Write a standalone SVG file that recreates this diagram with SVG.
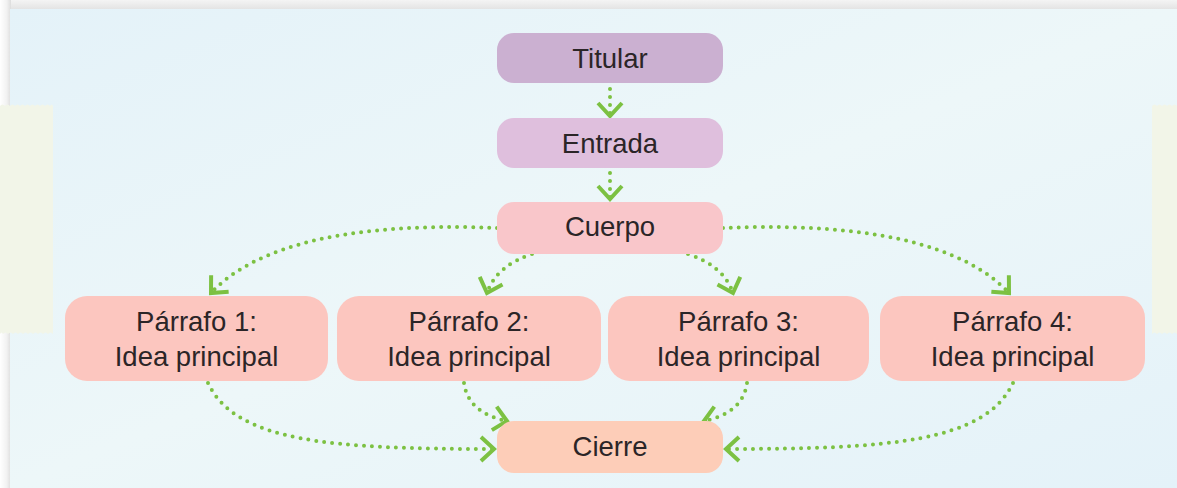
<svg xmlns="http://www.w3.org/2000/svg" width="1177" height="488" viewBox="0 0 1177 488">
<defs>
<linearGradient id="bg" x1="0" y1="0" x2="1" y2="1">
<stop offset="0" stop-color="#e4f2f9"/>
<stop offset="0.5" stop-color="#edf7f9"/>
<stop offset="1" stop-color="#e4f2f9"/>
</linearGradient>
<linearGradient id="topband" x1="0" y1="0" x2="0" y2="1">
<stop offset="0" stop-color="#f4f4f4"/>
<stop offset="1" stop-color="#e2e2e2"/>
</linearGradient>
<linearGradient id="leftband" x1="0" y1="0" x2="1" y2="0">
<stop offset="0" stop-color="#ffffff"/>
<stop offset="0.6" stop-color="#f2f2f2"/>
<stop offset="1" stop-color="#dddddd"/>
</linearGradient>
<marker id="chev" markerUnits="userSpaceOnUse" markerWidth="40" markerHeight="40" viewBox="-20 -20 40 40" refX="0" refY="0" orient="auto" overflow="visible">
<path d="M -13 -12 L 0 0 L -13 12" fill="none" stroke="#7cc142" stroke-width="4" stroke-linejoin="miter" stroke-linecap="butt"/>
</marker>
<style>
.node rect { stroke: none; }
.lbl { font-family: "Liberation Sans", Arial, sans-serif; font-size: 27.5px; fill: #2b2527; text-anchor: middle; }
.con { fill: none; stroke: #7cc142; stroke-width: 4; stroke-linecap: round; stroke-dasharray: 0 8; marker-end: url(#chev); }
</style>
</defs>
<rect x="0" y="0" width="1177" height="488" fill="#ffffff"/>
<rect x="0" y="0" width="1177" height="10" fill="url(#topband)"/>
<rect x="0" y="0" width="11" height="488" fill="url(#leftband)"/>
<rect x="10" y="9" width="1167" height="479" fill="url(#bg)"/>
<path d="M 0 106 q 2.5 -3 5 0 q 2.5 -3 5 0 q 2.5 -3 5 0 q 2.5 -3 5 0 q 2.5 -3 5 0 q 2.5 -3 5 0 q 2.5 -3 5 0 q 2.5 -3 5 0 q 2.5 -3 5 0 q 2.5 -3 5 0 q 2 -3 3 0 L 53 334 q -2.5 -3 -5 0 q -2.5 -3 -5 0 q -2.5 -3 -5 0 q -2.5 -3 -5 0 q -2.5 -3 -5 0 q -2.5 -3 -5 0 q -2.5 -3 -5 0 q -2.5 -3 -5 0 q -2.5 -3 -5 0 q -2.5 -3 -5 0 q -1.5 -3 -3 0 Z" fill="#f2f5e8"/>
<path d="M 1152 106 q 2.5 -3 5 0 q 2.5 -3 5 0 q 2.5 -3 5 0 q 2.5 -3 5 0 q 2.5 -3 5 0 L 1177 334 q -2.5 -3 -5 0 q -2.5 -3 -5 0 q -2.5 -3 -5 0 q -2.5 -3 -5 0 q -2.5 -3 -5 0 Z" fill="#f2f5e8"/>
<g id="connectors">
<path class="con" d="M 610 89 L 610 116"/>
<path class="con" d="M 610 173 L 610 199"/>
<path class="con" d="M 497 228 C 400 224, 270 230, 211 293"/>
<path class="con" d="M 532 254 Q 496 266, 487 293"/>
<path class="con" d="M 688 254 Q 724 266, 733 293"/>
<path class="con" d="M 723 228 C 820 224, 950 230, 1009 293"/>
<path class="con" d="M 208 383 C 236 442, 330 449, 494 449"/>
<path class="con" d="M 464 383 Q 468 413, 507 421"/>
<path class="con" d="M 747 383 Q 743 413, 704 421"/>
<path class="con" d="M 1013 383 C 985 442, 890 449, 726 449"/>
</g>
<g id="titular" class="node">
<rect x="497" y="33" width="226" height="50" rx="17" fill="#cbb0d1"/>
<text class="lbl" x="610" y="68">Titular</text>
</g>
<g id="entrada" class="node">
<rect x="497" y="118" width="226" height="50" rx="17" fill="#dfbfdd"/>
<text class="lbl" x="610" y="153">Entrada</text>
</g>
<g id="cuerpo" class="node">
<rect x="497" y="202" width="226" height="52" rx="17" fill="#f9c6ca"/>
<text class="lbl" x="610" y="236">Cuerpo</text>
</g>
<g id="parrafo1" class="node">
<rect x="65" y="296" width="263" height="85" rx="22" fill="#fcc6bf"/>
<text class="lbl" x="196.5" y="331">Párrafo 1:</text>
<text class="lbl" x="196.5" y="366">Idea principal</text>
</g>
<g id="parrafo2" class="node">
<rect x="337" y="296" width="264" height="85" rx="22" fill="#fcc6bf"/>
<text class="lbl" x="469" y="331">Párrafo 2:</text>
<text class="lbl" x="469" y="366">Idea principal</text>
</g>
<g id="parrafo3" class="node">
<rect x="608" y="296" width="261" height="85" rx="22" fill="#fcc6bf"/>
<text class="lbl" x="738.5" y="331">Párrafo 3:</text>
<text class="lbl" x="738.5" y="366">Idea principal</text>
</g>
<g id="parrafo4" class="node">
<rect x="880" y="296" width="265" height="85" rx="22" fill="#fcc6bf"/>
<text class="lbl" x="1012.5" y="331">Párrafo 4:</text>
<text class="lbl" x="1012.5" y="366">Idea principal</text>
</g>
<g id="cierre" class="node">
<rect x="497" y="421" width="226" height="52" rx="17" fill="#fdcdb8"/>
<text class="lbl" x="610" y="456">Cierre</text>
</g>
</svg>
